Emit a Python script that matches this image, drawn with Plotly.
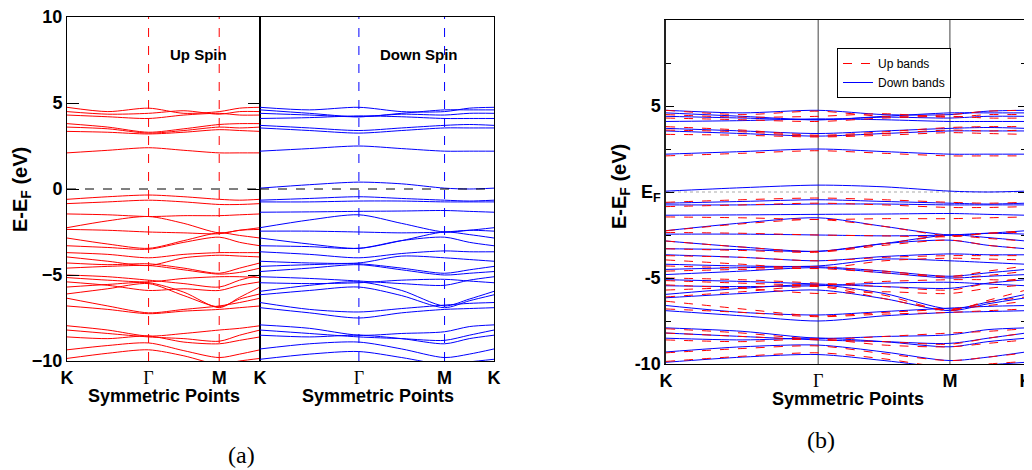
import plotly.graph_objects as go

# ---------------- data ----------------
k_labels = ["K", "Γ", "M", "K"]
segment_lengths = [1.0, 0.866, 0.5]          # K-Γ, Γ-M, M-K
# sampled k points: K, mid, Γ, mid, M, mid, K
k_sample_frac = [0.0, 0.5, 1.0, 1.5, 2.0, 2.5, 3.0]

up_bands = [
    [4.75, 4.5, 4.7, 4.4, 4.5, 4.7, 4.75],
    [4.5, 4.35, 4.4, 4.55, 4.35, 4.5, 4.5],
    [4.3, 4.2, 4.1, 4.3, 4.4, 4.3, 4.3],
    [3.8, 3.6, 3.3, 3.5, 3.75, 3.8, 3.8],
    [3.6, 3.5, 3.25, 3.4, 3.6, 3.55, 3.6],
    [3.35, 3.3, 3.2, 3.3, 3.45, 3.4, 3.35],
    [2.1, 2.25, 2.4, 2.25, 2.1, 2.1, 2.1],
    [-0.6, -0.45, -0.35, -0.45, -0.6, -0.65, -0.6],
    [-0.85, -0.75, -0.65, -0.75, -0.9, -0.9, -0.85],
    [-1.45, -1.5, -1.6, -1.55, -1.55, -1.5, -1.45],
    [-2.25, -1.85, -1.6, -2.0, -2.55, -2.4, -2.25],
    [-2.35, -2.4, -2.5, -2.55, -2.6, -2.4, -2.35],
    [-2.85, -3.2, -3.45, -3.0, -2.55, -2.7, -2.85],
    [-3.3, -3.4, -3.5, -3.1, -2.8, -3.1, -3.3],
    [-3.7, -3.8, -4.0, -3.8, -3.7, -3.7, -3.7],
    [-3.95, -4.2, -4.45, -4.0, -3.85, -3.9, -3.95],
    [-4.3, -4.4, -4.35, -4.6, -4.9, -4.6, -4.3],
    [-4.6, -4.5, -4.45, -4.7, -4.95, -4.85, -4.6],
    [-5.0, -5.1, -5.3, -5.5, -5.7, -5.3, -5.0],
    [-5.15, -5.3, -5.4, -5.2, -5.1, -5.1, -5.15],
    [-5.4, -5.6, -5.9, -5.8, -5.9, -5.6, -5.4],
    [-5.7, -5.55, -5.45, -6.0, -6.9, -6.3, -5.7],
    [-6.1, -5.8, -5.5, -6.2, -6.85, -6.4, -6.1],
    [-6.35, -6.8, -7.2, -7.0, -6.8, -6.6, -6.35],
    [-6.8, -7.0, -7.25, -7.1, -7.0, -6.9, -6.8],
    [-7.95, -8.2, -8.55, -8.4, -8.2, -8.1, -7.95],
    [-8.2, -8.4, -8.6, -8.7, -8.85, -8.5, -8.2],
    [-8.6, -8.7, -8.55, -8.9, -9.0, -8.8, -8.6],
    [-9.35, -9.1, -8.95, -9.4, -9.8, -9.6, -9.35],
    [-9.85, -9.55, -9.35, -9.7, -10.2, -10.0, -9.85],
]

down_bands = [
    [4.75, 4.6, 4.75, 4.5, 4.5, 4.7, 4.75],
    [4.6, 4.4, 4.2, 4.4, 4.6, 4.6, 4.6],
    [4.4, 4.3, 4.2, 4.35, 4.3, 4.4, 4.4],
    [4.1, 4.15, 4.25, 4.2, 4.1, 4.1, 4.1],
    [3.7, 3.55, 3.4, 3.55, 3.7, 3.75, 3.7],
    [3.55, 3.4, 3.25, 3.4, 3.55, 3.55, 3.55],
    [2.2, 2.35, 2.5, 2.35, 2.2, 2.2, 2.2],
    [0.05, 0.25, 0.4, 0.3, 0.05, 0.0, 0.05],
    [-0.65, -0.55, -0.45, -0.55, -0.65, -0.7, -0.65],
    [-0.75, -0.75, -0.7, -0.7, -0.75, -0.75, -0.75],
    [-1.35, -1.33, -1.3, -1.28, -1.25, -1.3, -1.35],
    [-2.25, -1.8, -1.5, -2.0, -2.5, -2.4, -2.25],
    [-2.45, -2.45, -2.5, -2.55, -2.5, -2.4, -2.45],
    [-2.85, -3.2, -3.45, -3.0, -2.5, -2.65, -2.85],
    [-3.3, -3.35, -3.45, -3.0, -2.8, -3.1, -3.3],
    [-3.65, -3.8, -4.0, -3.75, -3.6, -3.65, -3.65],
    [-4.2, -4.3, -4.3, -3.9, -4.0, -4.1, -4.2],
    [-4.5, -4.4, -4.35, -4.6, -4.9, -4.7, -4.5],
    [-4.8, -4.6, -4.4, -4.7, -5.0, -4.9, -4.8],
    [-5.1, -5.2, -5.35, -5.5, -5.6, -5.3, -5.1],
    [-5.45, -5.5, -5.45, -5.3, -5.25, -5.35, -5.45],
    [-5.95, -5.6, -5.4, -5.9, -6.8, -6.4, -5.95],
    [-6.15, -5.9, -5.7, -6.2, -6.9, -6.5, -6.15],
    [-6.6, -7.0, -7.15, -6.95, -6.75, -6.65, -6.6],
    [-6.9, -7.2, -7.5, -7.2, -7.0, -6.95, -6.9],
    [-7.9, -8.1, -8.5, -8.4, -8.3, -8.0, -7.9],
    [-8.2, -8.4, -8.6, -8.7, -8.8, -8.5, -8.2],
    [-8.5, -8.6, -8.5, -8.7, -9.0, -8.7, -8.5],
    [-9.3, -9.0, -8.9, -9.3, -9.8, -9.6, -9.3],
    [-9.9, -9.6, -9.45, -9.8, -10.2, -10.05, -9.9],
]

y_ticks_a = [-10, -5, 0, 5, 10]
y_ticks_b = [-10, -5, 0, 5]
y_ticktext_b = ["-10", "-5", "E<sub>F</sub>", "5"]

# ---------------- derived k coordinates ----------------
k_nodes = [0.0]
for s in segment_lengths:
    k_nodes.append(k_nodes[-1] + s)


def frac_to_k(f):
    i = min(int(f), len(segment_lengths) - 1)
    return k_nodes[i] + (f - i) * segment_lengths[i]


kx = [frac_to_k(f) for f in k_sample_frac]
k_end = k_nodes[-1]

# page body has an 8px margin: the figure starts at (8, 8) in the window
OFF = 8
W, H = 1032 - OFF, 470 - OFF
px = lambda x: (x - OFF) / W
py = lambda y: 1 - (y - OFF) / H

FONT = "Liberation Sans, Arial, sans-serif"
SERIF = "Liberation Serif, Times New Roman, serif"
GAMMA = "<span style='font-family:Liberation Serif, Times New Roman, serif;font-weight:normal'>Γ</span>"
tick_text = [GAMMA if t == "Γ" else t for t in k_labels]

fig = go.Figure()

line_kw = dict(width=1, shape="spline", smoothing=0.8)
# panel (a) up spin
for b in up_bands:
    fig.add_trace(go.Scatter(x=kx, y=b, mode="lines", line=dict(color="#ff0000", **line_kw),
                             xaxis="x", yaxis="y", showlegend=False, hoverinfo="skip"))
# panel (a) down spin
for b in down_bands:
    fig.add_trace(go.Scatter(x=kx, y=b, mode="lines", line=dict(color="#0000ff", **line_kw),
                             xaxis="x2", yaxis="y2", showlegend=False, hoverinfo="skip"))
# panel (b)
for i, b in enumerate(down_bands):
    fig.add_trace(go.Scatter(x=kx, y=b, mode="lines", name="Down bands", legendrank=2,
                             line=dict(color="#0000ff", **line_kw),
                             xaxis="x3", yaxis="y3", showlegend=(i == 0), hoverinfo="skip"))
for i, b in enumerate(up_bands):
    fig.add_trace(go.Scatter(x=kx, y=b, mode="lines", name="Up bands", legendrank=1,
                             line=dict(color="#ff0000", dash="dash", **line_kw),
                             xaxis="x3", yaxis="y3", showlegend=(i == 0), hoverinfo="skip"))

ya_dom = [py(361), py(17)]
yb_dom = [py(364), py(20)]

tickfont = dict(family=FONT, size=18, color="black", weight="bold")
xcommon = dict(range=[0, k_end], showgrid=False, zeroline=False, showline=True, linecolor="black",
               linewidth=1, mirror=True, ticks="", tickmode="array", automargin=False,
               tickfont=tickfont, ticklabelstandoff=0, ticklabeloverflow="allow")

fig.update_layout(
    width=W, height=H, margin=dict(l=0, r=0, t=0, b=0, autoexpand=False),
    paper_bgcolor="white", plot_bgcolor="white",
    xaxis=dict(domain=[px(67), px(260)], anchor="y", tickvals=k_nodes[:3], ticktext=tick_text[:3], **xcommon),
    xaxis2=dict(domain=[px(260), px(494)], anchor="y2", tickvals=k_nodes, ticktext=tick_text, **xcommon),
    xaxis3=dict(domain=[px(666), px(1026)], anchor="y3", tickvals=k_nodes, ticktext=tick_text, **xcommon),
    yaxis=dict(domain=ya_dom, anchor="x", range=[-10, 10], tickvals=y_ticks_a, ticks="inside", ticklen=12,
               tickcolor="black", showgrid=False, zeroline=False, showline=True, linecolor="black", linewidth=1,
               mirror="ticks", automargin=False, tickfont=tickfont, ticklabeloverflow="allow"),
    yaxis2=dict(domain=ya_dom, anchor="x2", range=[-10, 10], showticklabels=False, ticks="", automargin=False,
                showgrid=False, zeroline=False, showline=True, linecolor="black", linewidth=1, mirror=True),
    yaxis3=dict(domain=yb_dom, anchor="x3", range=[-10, 10], tickvals=y_ticks_b, ticktext=y_ticktext_b,
                ticks="inside", ticklen=8, tickcolor="black", showgrid=False, zeroline=False, showline=True,
                linecolor="#222", linewidth=1.5, mirror="ticks", automargin=False, ticklabeloverflow="allow",
                minor=dict(tickvals=[-7.5, -2.5, 2.5, 7.5], ticks="inside", ticklen=5, tickcolor="black"),
                tickfont=tickfont),
    legend=dict(x=px(837), y=py(48), xanchor="left", yanchor="top", bgcolor="white", bordercolor="black",
                borderwidth=1, font=dict(family=FONT, size=12, color="black"), tracegroupgap=0,
                itemwidth=30),
    showlegend=True,
)

shapes = []
# vertical lines at Γ and M
for xr, yr, col, dash in [("x", "y", "#ff0000", "dash"), ("x2", "y2", "#0000ff", "dash"), ("x3", "y3", "#444444", "solid")]:
    for kv in k_nodes[1:3]:
        shapes.append(dict(type="line", xref=xr, yref=yr + " domain", x0=kv, x1=kv, y0=0, y1=1,
                           line=dict(color=col, width=1, dash=dash), layer="below"))
# Fermi level
for xr, yr in [("x", "y"), ("x2", "y2")]:
    shapes.append(dict(type="line", xref=xr + " domain", yref=yr, x0=0, x1=1, y0=0, y1=0,
                       line=dict(color="black", width=1, dash="dash")))
shapes.append(dict(type="line", xref="x3 domain", yref="y3", x0=0, x1=1, y0=0, y1=0,
                   line=dict(color="#aaaaaa", width=1.2, dash="dot"), layer="below"))
fig.update_layout(shapes=shapes)

ann = []
def add_text(x, y, text, size=18, family=FONT, bold=True, angle=0):
    ann.append(dict(x=px(x), y=py(y), xref="paper", yref="paper", text=text, showarrow=False,
                    textangle=angle, xanchor="center", yanchor="middle",
                    font=dict(family=family, size=size, color="black", weight="bold" if bold else "normal")))

add_text(198, 55, "Up Spin", size=15)
add_text(419, 55, "Down Spin", size=15)
add_text(164, 396, "Symmetric Points")
add_text(378, 396, "Symmetric Points")
add_text(848, 399, "Symmetric Points")
add_text(21, 190, "E-E<sub>F</sub> (eV)", size=20, angle=-90)
add_text(620, 187, "E-E<sub>F</sub> (eV)", size=20, angle=-90)
add_text(241, 455, "(a)", size=24, family=SERIF, bold=False)
add_text(821, 440, "(b)", size=24, family=SERIF, bold=False)
fig.update_layout(annotations=ann)

fig.write_html("out.html")
